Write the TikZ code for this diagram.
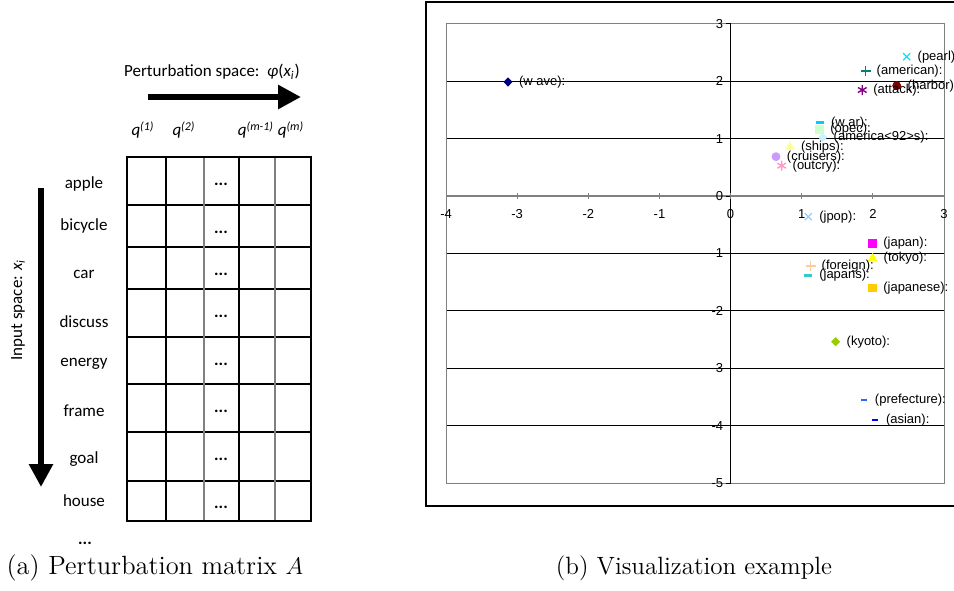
\documentclass[tikz,border=0pt]{standalone}
\usepackage{fontspec}
\newfontfamily\calibri{Carlito}
\newfontfamily\arial{Liberation Sans}
\usetikzlibrary{arrows.meta,plotmarks}
\definecolor{cWave}{HTML}{000080}
\definecolor{cPearl}{HTML}{00E0F0}
\definecolor{cAmerican}{HTML}{008080}
\definecolor{cHarbor}{HTML}{800000}
\definecolor{cAttack}{HTML}{800080}
\definecolor{cWar}{HTML}{00CCFF}
\definecolor{cOpec}{HTML}{CCFFCC}
\definecolor{cAmericas}{HTML}{CCF4FF}
\definecolor{cShips}{HTML}{FFFF99}
\definecolor{cCruisers}{HTML}{CC99FF}
\definecolor{cOutcry}{HTML}{FF99CC}
\definecolor{cJpop}{HTML}{99CCFF}
\definecolor{cJapan}{HTML}{FF00FF}
\definecolor{cTokyo}{HTML}{FFFF00}
\definecolor{cForeign}{HTML}{FFCC99}
\definecolor{cJapans}{HTML}{33CCCC}
\definecolor{cJapanese}{HTML}{FFCC00}
\definecolor{cKyoto}{HTML}{99CC00}
\definecolor{cPrefecture}{HTML}{3366FF}
\definecolor{cAsian}{HTML}{0000FF}
\begin{document}
\begin{tikzpicture}[x=0.5pt,y=-0.5pt,
	word/.style={inner sep=0pt,font=\calibri\fontsize{8.5}{10}\selectfont},
	dotsbox/.style={inner sep=0pt,font=\calibri\bfseries\fontsize{8.5}{10}\selectfont},
	caption/.style={inner sep=0pt,font=\fontsize{12.5}{15}\selectfont},
	bigarrow/.style={line width=3pt,-{Triangle[length=11.5pt,width=11.5pt]}},
	mkdiamond/.style={mark=diamond*,mark size=2pt,mark options={xscale=1.3}},
	mksquare/.style={mark=square*,mark size=1.8pt},
	mkcircle/.style={mark=*,mark size=2pt},
	mktri/.style={mark=triangle*,mark size=2.4pt},
	mkcross/.style={mark=x,mark size=2.5pt,line width=0.6pt},
	mkplus/.style={mark=+,mark size=2.5pt,line width=0.6pt},
	mkstar/.style={mark=asterisk,mark size=2.5pt,line width=0.7pt},
	mkdash/.style={mark=-,mark size=2pt,line width=1.5pt},
	mksdash/.style={mark=-,mark size=1.3pt,line width=1pt}]
	\useasboundingbox (0,0) rectangle (954,590);

	\node[word] (title) at (212,72) {Perturbation space:\ \ \textit{φ}(\textit{x}\textsubscript{\textit{i}})};
	\coordinate (hs) at (148,97);
	\coordinate (he) at (301,97);
	\draw[bigarrow] (hs) -- (he);
	\node[word] (q1) at (143,130) {\textit{q}\textsuperscript{\textit{(1)}}};
	\node[word] (q2) at (184,130) {\textit{q}\textsuperscript{\textit{(2)}}};
	\node[word] (qm1) at (256,130) {\textit{q}\textsuperscript{\textit{(m-1)}}};
	\node[word] (qm) at (291,130) {\textit{q}\textsuperscript{\textit{(m)}}};

	\foreach \y in {205,247,289,337,384,432,481}
		\draw[line width=0.6pt] (127,\y) -- (311,\y);
	\foreach \x/\c in {166/black,204/gray,239/black,275/gray}
		\draw[\c,line width=0.6pt] (\x,157) -- (\x,521);
	\draw[line width=1.2pt] (127,157) rectangle (311,521);
	\foreach \w/\ly/\dy in {apple/184/184,bicycle/226/232,car/274/274,discuss/322/316,
		energy/364/364,frame/411/411,goal/459/459,house/501/507}
	{
		\node[word] (\w) at (84,\ly) {\w};
		\node[dotsbox] (d\w) at (221,\dy) {...};
	}
	\node[dotsbox] (more) at (85,543) {...};

	\coordinate (vs) at (41,188);
	\coordinate (ve) at (41,487);
	\draw[bigarrow] (vs) -- (ve);
	\node[word,rotate=90] (inspace) at (18,310) {Input space: \textit{x}\textsubscript{\textit{i}}};

	\node[caption,font=\fontsize{13.2}{15}\selectfont] (capa) at (155,568) {(a) Perturbation matrix $A$};
	\node[caption] (capb) at (694,568) {(b) Visualization example};

	\draw[line width=0.7pt] (954,2) -- (426,2) -- (426,506) -- (954,506);
	\begin{scope}[shift={(365.3pt,-98.05pt)},x=35.57pt,y=28.69pt,
		font=\arial\fontsize{6.5}{7.5}\selectfont]
		\foreach \k in {-4,...,2}
			\draw[line width=0.5pt] (-4,\k) -- (3,\k);
		\draw[gray,line width=0.5pt] (-4,-5) rectangle (3,3);
		\draw[gray,line width=0.7pt] (-4,0) -- (3,0);
		\draw[line width=0.5pt] (0,-5) -- (0,3);
		\foreach \k [count=\i] in {-5,...,3}
		{
			\draw[line width=0.5pt] (-0.07,\k) -- (0,\k);
			\node[anchor=east,inner sep=0pt] (yl\i) at (-0.1,\k) {\k};
		}
		\foreach \k [count=\i] in {-4,...,3}
		{
			\draw[gray,line width=0.5pt] (\k,0.05) -- (\k,-0.05);
			\node[inner sep=0pt] (xl\i) at (\k,-0.31) {\k};
		}
		\foreach \px/\py/\mk/\cl/\tx [count=\i] in {
			-3.129/1.989/mkdiamond/cWave/{(w ave):},
			2.475/2.430/mkcross/cPearl/{(pearl)},
			1.899/2.180/mkplus/cAmerican/{(american):},
			2.335/1.924/mkcircle/cHarbor/{(harbor)},
			1.851/1.849/mkstar/cAttack/{(attack):},
			1.257/1.279/mkdash/cWar/{(w ar):},
			1.247/1.164/mksquare/cOpec/{(opec):},
			1.295/1.025/mkdiamond/cAmericas/{(america<92>s):},
			0.835/0.861/mktri/cShips/{(ships):},
			0.638/0.687/mkcircle/cCruisers/{(cruisers):},
			0.718/0.530/mkstar/cOutcry/{(outcry):},
			1.092/-0.359/mkcross/cJpop/{(jpop):},
			1.992/-0.823/mksquare/cJapan/{(japan):},
			1.997/-1.084/mktri/cTokyo/{(tokyo):},
			1.126/-1.218/mkplus/cForeign/{(foreign):},
			1.092/-1.375/mkdash/cJapans/{(japans):},
			1.992/-1.597/mksquare/cJapanese/{(japanese):},
			1.477/-2.538/mkdiamond/cKyoto/{(kyoto):},
			1.875/-3.559/mksdash/cPrefecture/{(prefecture):},
			2.030/-3.907/mksdash/cAsian/{(asian):}}
		{
			\draw[\cl,\mk] plot[only marks] coordinates {(\px,\py)};
			\node[anchor=west,inner sep=0pt] (lab\i) at ([xshift=5.3pt]\px,\py) {\tx};
		}
	\end{scope}
\end{tikzpicture}
\end{document}
